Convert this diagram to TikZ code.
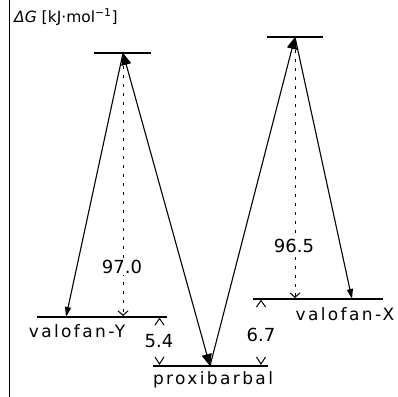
\documentclass[tikz,border=0pt]{standalone}
\usepackage{fontspec}
\setmainfont{DejaVu Sans}
\newfontfamily\labfont[LetterSpace=14]{DejaVu Sans}
\usetikzlibrary{arrows.meta}
\tikzset{
  level/.style={line width=1.2pt},
  axisline/.style={line width=1.5pt},
  bigarrow/.style={line width=1.1pt,-{Triangle[length=12pt,width=10pt]}},
  bigboth/.style={line width=1.1pt,{Triangle[length=12pt,width=10pt]}-{Triangle[length=12pt,width=10pt]}},
  smallarrow/.style={line width=1.1pt,-{Triangle[length=10pt,width=6pt]}},
  dotarrow/.style={line width=1pt,dash pattern=on 2.5pt off 6.5pt,-{Straight Barb[length=4.5pt,width=10pt,line width=1pt]}},
  barb/.style={line width=1pt},
  lab/.style={font=\fontsize{17}{19}\labfont,inner sep=0pt},
  num/.style={font=\fontsize{18}{20}\selectfont,inner sep=1.5pt,fill=white},
}
\begin{document}
\begin{tikzpicture}[x=1pt,y=-1pt]
\useasboundingbox (0,0) rectangle (397,397);
% axis
\coordinate (axtop) at (9.5,0);
\coordinate (axbot) at (9.5,397);
\draw[axisline] (axtop) -- (axbot);
\node[anchor=base west,inner sep=0pt,font=\fontsize{15.5}{17}\selectfont] (dg) at (14,22) {\textit{ΔG} [kJ·mol\textsuperscript{−1}]};
% levels
\coordinate (ts1) at (123,53);
\coordinate (ts1l) at (94,53);
\coordinate (ts1r) at (151,53);
\coordinate (ts2) at (295,37);
\coordinate (ts2l) at (267,37);
\coordinate (ts2r) at (323,37);
\coordinate (vy) at (66,317);
\coordinate (vyl) at (37,317);
\coordinate (vyr) at (167,317);
\coordinate (px) at (210,366);
\coordinate (pxl) at (153,366);
\coordinate (pxr) at (268,366);
\coordinate (vx) at (352,299);
\coordinate (vxl) at (253,299);
\coordinate (vxr) at (383,299);
\draw[level] (ts1l) -- (ts1r);
\draw[level] (ts2l) -- (ts2r);
\draw[level] (vyl) -- (vyr);
\draw[level] (pxl) -- (pxr);
\draw[level] (vxl) -- (vxr);
% reaction paths
\draw[smallarrow] (ts1) -- (vy);
\draw[bigboth] (ts1) -- (px);
\draw[bigarrow] (px) -- (ts2);
\draw[smallarrow] (ts2) -- (vx);
% barrier heights
\coordinate (d1a) at (123,66);
\coordinate (d1b) at (123,316);
\coordinate (d2a) at (295,50);
\coordinate (d2b) at (295,298);
\draw[dotarrow] (d1a) -- (d1b);
\draw[dotarrow] (d2a) -- (d2b);
\node[num] (n97) at (122,267) {97.0};
\node[num] (n96) at (294,246) {96.5};
% energy differences
\draw[barb] (155,325) -- (159.5,318.5) -- (164,325);
\draw[barb] (155,357) -- (159.5,364) -- (164,357);
\node[num,fill=none] (n54) at (159,341) {5.4};
\draw[barb] (256.5,307) -- (261,300.5) -- (265.5,307);
\draw[barb] (256.5,357) -- (261,364) -- (265.5,357);
\node[num,fill=none] (n67) at (261,335) {6.7};
% labels
\node[lab,anchor=base] (lvy) at (77,337) {valofan-Y};
\node[lab,anchor=base] (lpx) at (213,384) {proxibarbal};
\node[lab,anchor=base] (lvx) at (345,320) {valofan-X};
\end{tikzpicture}
\end{document}
